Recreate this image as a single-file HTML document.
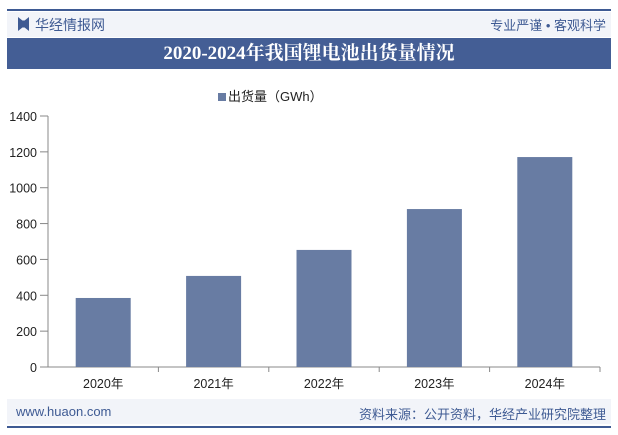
<!DOCTYPE html>
<html><head><meta charset="utf-8"><style>
body{margin:0;width:618px;height:435px;background:#fff;font-family:"Liberation Sans","Noto Sans CJK SC",sans-serif;position:relative;overflow:hidden}
.abs{position:absolute}
</style></head><body>
<div class="abs" style="left:7px;top:9px;width:604px;height:2px;background:#3e5a93"></div>
<div class="abs" style="left:7px;top:12px;width:604px;height:25px;background:#f2f4f9"></div>
<div class="abs" style="left:18px;top:17px;width:11px;height:14px;background:#3e5a93;clip-path:polygon(0 0,40% 25%,60% 25%,100% 0,100% 100%,60% 75%,40% 75%,0 100%)"></div>
<div class="abs" style="left:35px;top:15px;font-size:14px;color:#3e5a93">华经情报网</div>
<div class="abs" style="right:12px;top:15px;font-size:13px;color:#3e5a93">专业严谨 • 客观科学</div>
<div class="abs" style="left:7px;top:38px;width:604px;height:31px;background:#445e95;color:#fff;font-family:'Liberation Serif','Noto Serif CJK SC',serif;font-weight:bold;font-size:19px;line-height:31px;text-align:center">2020-2024年我国锂电池出货量情况</div>
<div class="abs" style="left:218px;top:86px;font-size:13px;color:#222"><span style="display:inline-block;width:8px;height:8px;background:#687ca3;margin-right:2px"></span>出货量（GWh）</div>
<svg class="abs" style="left:0;top:0" width="618" height="435" id="chart"></svg>
<div class="abs" style="left:7px;top:399px;width:604px;height:25px;background:#f2f4f9"></div>
<div class="abs" style="left:16px;top:404px;font-size:13px;color:#3e5a93">www.huaon.com</div>
<div class="abs" style="right:12px;top:404px;font-size:13px;color:#3e5a93">资料来源：公开资料，华经产业研究院整理</div>
<div class="abs" style="left:7px;top:426px;width:604px;height:2px;background:#3e5a93"></div>
<script>
const categories=["2020年","2021年","2022年","2023年","2024年"];
const values=[385,508,653,881,1171];
const yTicks=[0,200,400,600,800,1000,1200,1400];
const svg=document.getElementById('chart');const NS='http://www.w3.org/2000/svg';
const x0=48,x1=600,yb=367,yt=116,ymax=1400;
const y=v=>yb-(v/ymax)*(yb-yt);
const bw=(x1-x0)/categories.length;
function mk(t,a){const e=document.createElementNS(NS,t);for(const k in a)e.setAttribute(k,a[k]);svg.appendChild(e);return e;}
yTicks.forEach(v=>{
 const t=mk('text',{x:37,y:y(v)+5,'text-anchor':'end','font-size':12.5,fill:'#222'});t.textContent=v;
 
 
 mk('line',{x1:40,x2:x0,y1:y(v),y2:y(v),stroke:'#888'});
});
mk('line',{x1:x0,x2:x0,y1:yt,y2:yb,stroke:'#888'});
mk('line',{x1:x0,x2:x1,y1:yb,y2:yb,stroke:'#888'});
categories.forEach((c,i)=>{
 const cx=x0+bw*(i+0.5);
 const r=mk('rect',{x:cx-27.5,y:y(values[i]),width:55,height:yb-y(values[i]),fill:'#687ca3'});
 
 
 mk('line',{x1:x0+bw*(i+1),x2:x0+bw*(i+1),y1:yb,y2:yb+5,stroke:'#888'});
 const t=mk('text',{x:cx,y:yb+21,'text-anchor':'middle','font-size':12.5,fill:'#222'});t.textContent=c;
 
 
});
</script>
</body></html>
